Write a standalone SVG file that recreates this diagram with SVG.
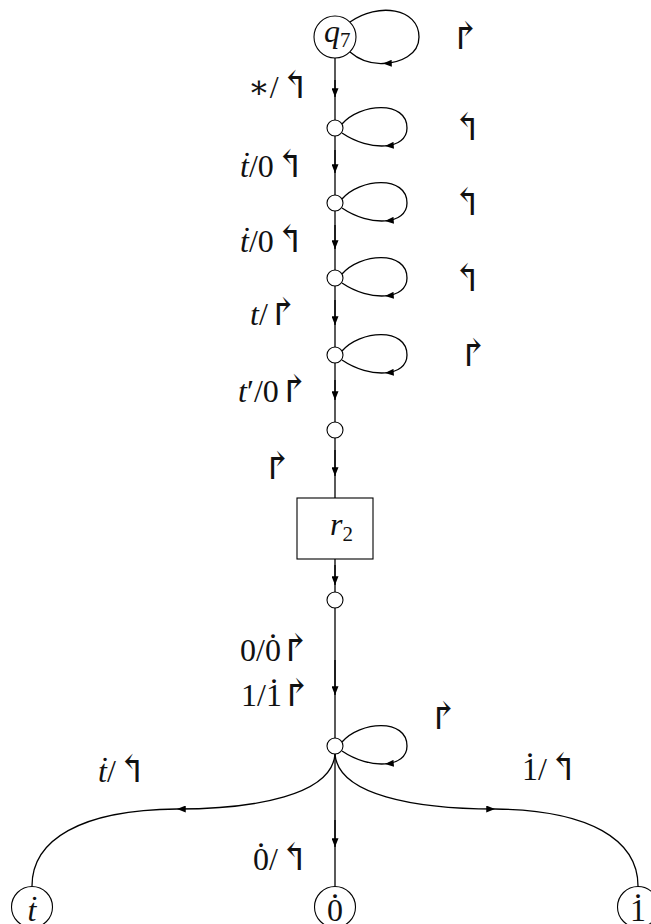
<svg xmlns="http://www.w3.org/2000/svg" xmlns:xlink="http://www.w3.org/1999/xlink" width="651" height="924" viewBox="0 0 651 924">
<style>
.ln{fill:none;stroke:#000;stroke-width:1.3}
.nd{fill:#fff;stroke:#000;stroke-width:1.1}
text{font-family:"Liberation Serif","DejaVu Serif",serif;font-size:32px;fill:#111}
.it{font-style:italic}
.ar{font-family:"DejaVu Serif",serif;font-size:38px}
.sub{font-size:21px}
</style>
<defs>
<marker id="ah" viewBox="0 0 10 8" refX="10" refY="4" markerWidth="9" markerHeight="7" markerUnits="userSpaceOnUse" orient="auto">
<path d="M0 0 L10 4 L0 8 Z" fill="#000"/>
</marker>
<g id="loop">
<path class="ln" d="M7 -4 C25 -25 72 -28 72 0 C72 11 62.75 17 50 17.9" marker-end="url(#ah)"/>
<path class="ln" d="M50 17.9 C37.25 18.75 21 14.5 7 5"/>
</g>
</defs>
<g id="connectors">
<path class="ln" d="M335 58 L335 886"/>
<path class="ln" d="M335 80 L335 97" marker-end="url(#ah)"/>
<path class="ln" d="M335 150 L335 173" marker-end="url(#ah)"/>
<path class="ln" d="M335 225 L335 249" marker-end="url(#ah)"/>
<path class="ln" d="M335 300 L335 325" marker-end="url(#ah)"/>
<path class="ln" d="M335 380 L335 400" marker-end="url(#ah)"/>
<path class="ln" d="M335 450 L335 476" marker-end="url(#ah)"/>
<path class="ln" d="M335 565 L335 585" marker-end="url(#ah)"/>
<path class="ln" d="M335 660 L335 695" marker-end="url(#ah)"/>
<path class="ln" d="M335 820 L335 847" marker-end="url(#ah)"/>
<path class="ln" d="M350 22 C378 2 419 8 419 37 C419 55 400 63 383 63.5" marker-end="url(#ah)"/>
<path class="ln" d="M383 63.5 C370 64 358 59 350 52"/>
<use xlink:href="#loop" x="335" y="128"/>
<use xlink:href="#loop" x="335" y="203"/>
<use xlink:href="#loop" x="335" y="278"/>
<use xlink:href="#loop" x="335" y="355"/>
<use xlink:href="#loop" x="335" y="746"/>
<path class="ln" d="M335 754 C332 795 255 809 177 809" marker-end="url(#ah)"/>
<path class="ln" d="M177 809 C80 810 32 840 32 886"/>
<path class="ln" d="M335 754 C338 795 415 809 495 809" marker-end="url(#ah)"/>
<path class="ln" d="M495 809 C590 810 638 840 638 886"/>
</g>
<g id="q7"><circle class="nd" cx="335" cy="37" r="21"/><text x="324" y="42"><tspan class="it">q</tspan><tspan class="sub" dy="5">7</tspan></text></g>
<g id="n1"><circle class="nd" cx="335" cy="128" r="8"/></g>
<g id="n2"><circle class="nd" cx="335" cy="203" r="8"/></g>
<g id="n3"><circle class="nd" cx="335" cy="278" r="8"/></g>
<g id="n4"><circle class="nd" cx="335" cy="355" r="8"/></g>
<g id="n5"><circle class="nd" cx="335" cy="430" r="8"/></g>
<g id="r2"><rect class="nd" x="297" y="498" width="76" height="61"/><text x="330" y="535"><tspan class="it">r</tspan><tspan class="sub" dy="6">2</tspan></text></g>
<g id="n6"><circle class="nd" cx="335" cy="600" r="8"/></g>
<g id="n7"><circle class="nd" cx="335" cy="746" r="8"/></g>
<g id="tdot"><circle class="nd" cx="32" cy="907" r="20.5"/><text class="it" x="32" y="921" text-anchor="middle">ṫ</text></g>
<g id="zdot"><circle class="nd" cx="335" cy="907" r="20.5"/><text x="335" y="921" text-anchor="middle">0</text><text x="335" y="898" text-anchor="middle">.</text></g>
<g id="odot"><circle class="nd" cx="638" cy="907" r="20.5"/><text x="638" y="921" text-anchor="middle">1</text><text x="638" y="898" text-anchor="middle">.</text></g>
<g id="labels">
<text x="248" y="98">∗/<tspan class="ar">↰</tspan></text>
<text x="240" y="177"><tspan class="it">ṫ</tspan>/0<tspan class="ar">↰</tspan></text>
<text x="240" y="252"><tspan class="it">ṫ</tspan>/0<tspan class="ar">↰</tspan></text>
<text x="250" y="325"><tspan class="it">t</tspan>/<tspan class="ar">↱</tspan></text>
<text x="238" y="402"><tspan class="it">t</tspan>′/0<tspan class="ar">↱</tspan></text>
<text class="ar" x="262" y="479">↱</text>
<text x="240" y="661">0/0<tspan dx="-12" dy="-23">.</tspan><tspan class="ar" dx="3" dy="23">↱</tspan></text>
<text x="241" y="706">1/1<tspan dx="-12" dy="-23">.</tspan><tspan class="ar" dx="3" dy="23">↱</tspan></text>
<text x="98" y="782"><tspan class="it">ṫ</tspan>/<tspan class="ar">↰</tspan></text>
<text x="253" y="870">0<tspan dx="-12" dy="-23">.</tspan><tspan dx="4" dy="23">/</tspan><tspan class="ar">↰</tspan></text>
<text x="522" y="780">1<tspan dx="-12" dy="-23">.</tspan><tspan dx="4" dy="23">/</tspan><tspan class="ar">↰</tspan></text>
<text class="ar" x="450" y="49">↱</text>
<text class="ar" x="451" y="140">↰</text>
<text class="ar" x="451" y="215">↰</text>
<text class="ar" x="451" y="291">↰</text>
<text class="ar" x="458" y="366">↱</text>
<text class="ar" x="428" y="729">↱</text>
</g>
</svg>
